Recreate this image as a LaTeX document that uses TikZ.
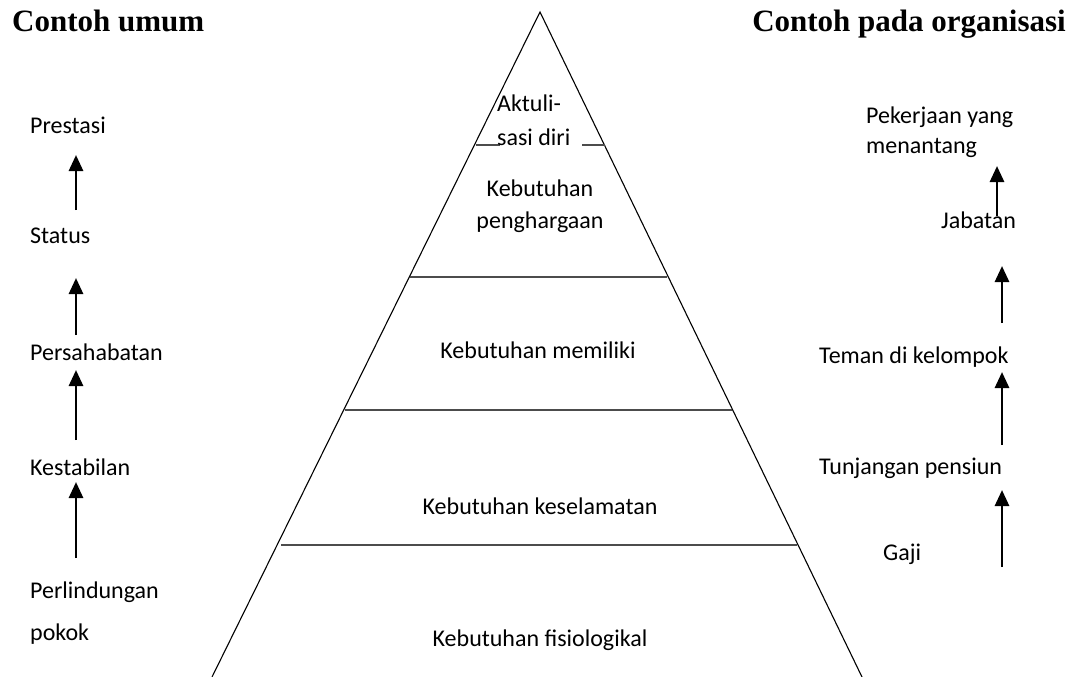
\documentclass[tikz,border=0pt]{standalone}
\usepackage{fontspec}
\setmainfont{Carlito}
\newfontfamily\titlefont{Liberation Serif}
\usetikzlibrary{arrows.meta}
\begin{document}
\begin{tikzpicture}[x=1pt,y=-1pt,
  lbl/.style={font=\fontsize{24}{30}\selectfont, inner sep=0pt, anchor=west},
  ctr/.style={font=\fontsize{24}{32}\selectfont, inner sep=0pt, align=center},
  ttl/.style={font=\titlefont\bfseries\fontsize{31}{36}\selectfont, inner sep=0pt},
  side/.style={line width=1.1pt},
  level/.style={line width=2.2pt, black!70},
  up/.style={line width=2.8pt, -{Triangle[length=16pt,width=14pt]}}]
\useasboundingbox (0,0) rectangle (1076,677);

% titles
\node[ttl, anchor=base west] (t1) at (12,32) {Contoh umum};
\node[ttl, anchor=base east] (t2) at (1066,32) {Contoh pada organisasi};

% pyramid
\coordinate (apex) at (540,12);
\coordinate (bl) at (212,677);
\coordinate (br) at (862,677);
\draw[side] (bl) -- (apex) -- (br);
\draw[level] (476,145) -- (500,145);
\draw[level] (582,145) -- (605,145);
\draw[level] (410,277) -- (667,277);
\draw[level] (345,410) -- (732,410);
\draw[level] (281,545) -- (797,545);

% pyramid texts
\node[lbl, align=left, font=\fontsize{24}{34}\selectfont] (p5) at (497,120) {Aktuli-\\sasi diri};
\node[ctr] (p4) at (540,206) {Kebutuhan\\penghargaan};
\node[ctr] (p3) at (538,350) {Kebutuhan memiliki};
\node[ctr] (p2) at (540,506) {Kebutuhan keselamatan};
\node[ctr] (p1) at (540,640) {Kebutuhan fisiologikal};

% left column
\node[lbl] (l5) at (30,125) {Prestasi};
\node[lbl] (l4) at (30,236) {Status};
\node[lbl] (l3) at (30,352) {Persahabatan};
\node[lbl] (l2) at (30,467) {Kestabilan};
\node[lbl, align=left, font=\fontsize{24}{42}\selectfont] (l1) at (30,613) {Perlindungan\\pokok};

\coordinate (la1) at (76,558); \coordinate (la1t) at (76,482);
\coordinate (la2) at (76,440); \coordinate (la2t) at (76,370);
\coordinate (la3) at (76,335); \coordinate (la3t) at (76,278);
\coordinate (la4) at (76,210); \coordinate (la4t) at (76,155);
\draw[up] (la1) -- (la1t);
\draw[up] (la2) -- (la2t);
\draw[up] (la3) -- (la3t);
\draw[up] (la4) -- (la4t);

% right column
\node[lbl, align=left] (r5) at (866,132) {Pekerjaan yang\\menantang};
\node[lbl] (r4) at (941,220) {Jabatan};
\node[lbl] (r3) at (819,357) {Teman di kelompok};
\node[lbl] (r2) at (819,468) {Tunjangan pensiun};
\node[lbl] (r1) at (883,554) {Gaji};

\coordinate (ra1) at (1002,567); \coordinate (ra1t) at (1002,490);
\coordinate (ra2) at (1002,445); \coordinate (ra2t) at (1002,372);
\coordinate (ra3) at (1002,323); \coordinate (ra3t) at (1002,266);
\coordinate (ra4) at (997,216); \coordinate (ra4t) at (997,166);
\draw[up] (ra1) -- (ra1t);
\draw[up] (ra2) -- (ra2t);
\draw[up] (ra3) -- (ra3t);
\draw[up] (ra4) -- (ra4t);
\end{tikzpicture}
\end{document}
